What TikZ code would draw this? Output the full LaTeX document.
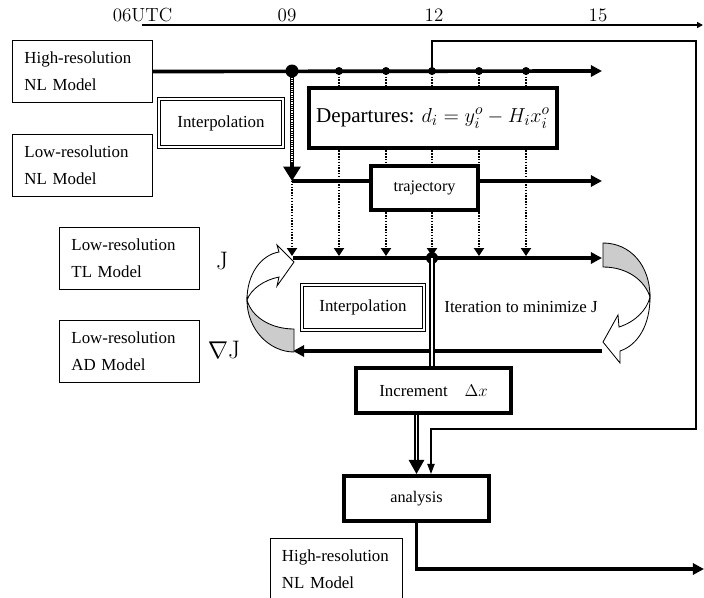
\documentclass[tikz,border=0pt]{standalone}
\usepackage{fontspec}
\usepackage{amsmath}
\usetikzlibrary{arrows.meta}
\newfontfamily\tnr{Liberation Serif}

\begin{document}
\begin{tikzpicture}[x=0.025cm,y=-0.025cm,
    model/.style={draw,line width=0.6pt,minimum height=1.55cm,inner xsep=0.3cm,text width=2.9cm,align=left,font=\tnr\fontsize{12}{19}\selectfont},
    interp/.style={draw,double,line width=0.8pt,double distance=1.1pt,fill=white,font=\tnr\fontsize{12}{14}\selectfont},
    thickbox/.style={draw,line width=3pt,fill=white,font=\tnr\fontsize{11.5}{14}\selectfont},
    timelabel/.style={anchor=base,font=\fontsize{13.5}{16}\selectfont},
    heavy/.style={line width=2.6pt},
    tip/.style={-{Triangle[length=0.28cm,width=0.28cm]}},
    dotline/.style={line width=1.6pt,dash pattern=on 1pt off 1pt},
    dottip/.style={-{Triangle[length=0.2cm,width=0.25cm]}},
    twin/.style={double,line width=1.4pt,double distance=1.4pt}]
  \useasboundingbox (0,0) rectangle (704,598);
  \clip (0,0) rectangle (704,598);

  \node[timelabel] (t06) at (142.5,21.5) {06UTC};
  \node[timelabel] (t09) at (287,21.5) {09};
  \node[timelabel] (t12) at (434,21.5) {12};
  \node[timelabel] (t15) at (598,21.5) {15};
  \coordinate (tstart) at (142,25);
  \coordinate (tend) at (703,25);
  \draw[line width=1.4pt,-{Triangle[length=0.15cm,width=0.15cm]}] (tstart) -- (tend);

  \node[model] (hinl) at (82.5,71.5) {High-resolution\\NL Model};
  \node[model] (lonl) at (82.5,165) {Low-resolution\\NL Model};
  \node[model] (tl) at (129.5,258) {Low-resolution\\TL Model};
  \node[model] (ad) at (129.5,351.5) {Low-resolution\\AD Model};
  \node[model,text width=2.7cm] (hinl2) at (336,569) {High-resolution\\NL Model};

  \node[interp,minimum width=3.1cm,minimum height=1.2cm] (interpa) at (221,123) {Interpolation};
  \node[interp,minimum width=3.05cm,minimum height=1.13cm] (interpb) at (363,307.5) {Interpolation};

  \node[thickbox,line width=3.5pt,minimum width=6.2cm,minimum height=1.5cm,font=\tnr\fontsize{15}{18}\selectfont] (dep) at (433,118) {Departures: $d_i = y_i^o - H_i x_i^o$};

  \coordinate (o0) at (292,71);
  \foreach \n/\x in {1/339,2/386,3/432,4/479,5/526}
    \coordinate (o\n) at (\x,71);
  \coordinate (hiend) at (602,71);
  \coordinate (tr0) at (292,181);
  \coordinate (tr1) at (602,181);
  \coordinate (j0) at (293,258);
  \coordinate (j1) at (602,258);
  \coordinate (jtop) at (293,256);
  \coordinate (g0) at (602,351);
  \coordinate (g1) at (293,351);

  \draw[heavy,tip] (hinl.east) -- (hiend);
  \draw[line width=2.2pt,tip] (tr0) -- (tr1);
  \draw[heavy,tip] (j0) -- (j1);
  \draw[heavy,tip] (g0) -- (g1);

  \foreach \n in {1,...,5} {
    \draw[dotline] (o\n) -- (o\n |- dep.north);
    \draw[dotline,dottip] (o\n |- dep.south) -- (o\n |- jtop);
  }
  \draw[dotline,dottip] (tr0) -- (tr0 |- jtop);

  \node[thickbox,minimum width=2.67cm,minimum height=1.1cm] (traj) at (424.5,188) {trajectory};

  \draw[line width=3.5pt,-{Triangle[length=0.36cm,width=0.42cm]}] (o0) -- (tr0);
  \draw[white,line width=0.8pt,dash pattern=on 0.8pt off 0.8pt,shorten >=0.45cm] (o0) -- (tr0);
  \fill (o0) circle (6.5);
  \foreach \n in {1,...,5}
    \fill (o\n) circle (4);

  \coordinate (jdot) at (432,258);
  \fill (jdot) circle (6);

  \node[thickbox,minimum width=3.87cm,minimum height=1.12cm,font=\tnr\fontsize{12}{14}\selectfont] (incr) at (433.5,390.5) {Increment\quad$\Delta x$};
  \node[thickbox,minimum width=3.62cm,minimum height=1.12cm] (anl) at (416.5,498.5) {analysis};

  \draw[twin] (jdot) -- (jdot |- incr.north);
  \draw[twin,-{Triangle[length=0.35cm,width=0.38cm]}] (anl.north |- incr.south) -- (anl.north);

  \coordinate (fb1) at (432,41);
  \coordinate (fb2) at (696,41);
  \coordinate (fb3) at (696,429);
  \coordinate (fb4) at (431,429);
  \draw[line width=1pt,-{Triangle[length=0.25cm,width=0.18cm]}] (o3) -- (fb1) -- (fb2) -- (fb3) -- (fb4) -- (fb4 |- anl.north);

  \coordinate (out1) at (416.5,569);
  \coordinate (out2) at (704,569);
  \draw[heavy,tip] (anl.south) -- (out1) -- (out2);

  \node[font=\fontsize{18}{20}\selectfont] (jlab) at (222,261) {J};
  \node[font=\fontsize{18}{20}\selectfont] (gradlab) at (224,350) {$\nabla$J};
  \node[font=\tnr\fontsize{12}{14}\selectfont] (iter) at (521,307) {Iteration to minimize J};

  \filldraw[fill=black!20,line width=0.6pt] (247,300) .. controls (247,330) and (270,352) .. (294,352) -- (294,329) .. controls (272,329) and (252,318) .. (247,300) -- cycle;
  \filldraw[fill=white,line width=0.6pt] (247,300) .. controls (247,274) and (261,255) .. (279,252) -- (277,245) -- (294,262) -- (277,286) -- (279,277) .. controls (264,280) and (251,289) .. (247,300) -- cycle;
  \filldraw[fill=black!20,line width=0.6pt] (603,243) .. controls (630,243) and (650,265) .. (650,297) .. controls (645,281) and (628,267) .. (603,267) -- cycle;
  \filldraw[fill=white,line width=0.6pt] (650,297) .. controls (650,325) and (638,345) .. (620,351) -- (620,363) -- (603,342) -- (618,315) -- (619,327) .. controls (635,322) and (647,310) .. (650,297) -- cycle;
\end{tikzpicture}
\end{document}
